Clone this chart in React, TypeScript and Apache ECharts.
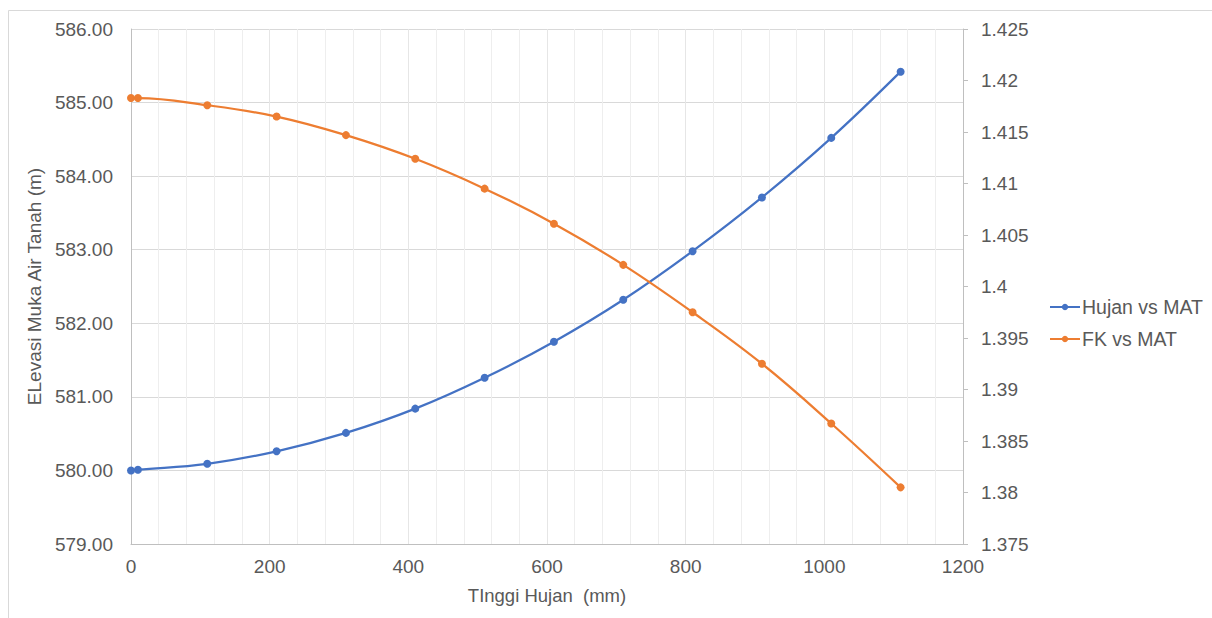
import React, { useEffect, useRef } from "react";
import * as echarts from "echarts";

const rainfall = [0, 10, 110, 210, 310, 410, 510, 610, 710, 810, 910, 1010, 1110];
const hujanVsMat = [580.0, 580.01, 580.09, 580.26, 580.51, 580.84, 581.26, 581.75, 582.32, 582.98, 583.71, 584.52, 585.42];
const fkVsMat = [1.4183, 1.4183, 1.4176, 1.4165, 1.4147, 1.4124, 1.4095, 1.4061, 1.4021, 1.3975, 1.3925, 1.3867, 1.3805];
const seriesNames = ["Hujan vs MAT", "FK vs MAT"];

const FONT = "'Liberation Sans', Arial, sans-serif";
const TEXT = "#595959";

export default function App() {
  const ref = useRef<HTMLDivElement>(null);
  useEffect(() => {
    if (!ref.current) return;
    const chart = echarts.init(ref.current, null, { renderer: "svg" });
    chart.setOption({
      animation: false,
      backgroundColor: "#ffffff",
      textStyle: { fontFamily: FONT },
      graphic: [
        {
          type: "rect",
          shape: { x: 8.5, y: 10.5, width: 1240, height: 640 },
          style: { fill: "none", stroke: "#d9d9d9", lineWidth: 1 },
          silent: true,
        },
      ],
      grid: { left: 131, right: 249, top: 29, bottom: 74, containLabel: false },
      legend: {
        orient: "vertical",
        left: 1044,
        top: 292,
        itemWidth: 30,
        itemHeight: 8,
        itemGap: 12,
        data: seriesNames,
        textStyle: { fontFamily: FONT, fontSize: 19.5, color: TEXT, padding: [0, 0, 0, -3] },
      },
      xAxis: {
        type: "value",
        min: 0,
        max: 1200,
        interval: 200,
        name: "TInggi Hujan  (mm)",
        nameLocation: "middle",
        nameGap: 42,
        nameTextStyle: { fontFamily: FONT, fontSize: 18.5, color: TEXT },
        axisLine: { show: true, lineStyle: { color: "#bfbfbf", width: 1 } },
        axisTick: { show: false },
        axisLabel: {
          fontFamily: FONT,
          fontSize: 19,
          color: TEXT,
          margin: 13,
          formatter: (v: number) => String(v),
        },
        splitLine: { show: true, lineStyle: { color: "#e6e6e6", width: 1 } },
        minorTick: { show: false, splitNumber: 5 },
        minorSplitLine: { show: true, lineStyle: { color: "#eeeeee", width: 1 } },
      },
      yAxis: [
        {
          type: "value",
          min: 579,
          max: 586,
          interval: 1,
          name: "ELevasi Muka Air Tanah (m)",
          nameLocation: "middle",
          nameGap: 85,
          nameTextStyle: { fontFamily: FONT, fontSize: 19, color: TEXT },
          axisLine: { show: true, lineStyle: { color: "#bfbfbf", width: 1 } },
          axisTick: { show: false },
          axisLabel: {
            fontFamily: FONT,
            fontSize: 19,
            color: TEXT,
            margin: 18,
            formatter: (v: number) => v.toFixed(2),
          },
          splitLine: { show: true, lineStyle: { color: "#d9d9d9", width: 1 } },
        },
        {
          type: "value",
          min: 1.375,
          max: 1.425,
          interval: 0.005,
          position: "right",
          axisLine: { show: true, lineStyle: { color: "#bfbfbf", width: 1 } },
          axisTick: { show: true, length: 5, lineStyle: { color: "#bfbfbf" } },
          axisLabel: {
            fontFamily: FONT,
            fontSize: 19,
            color: TEXT,
            margin: 18,
            formatter: (v: number) => String(parseFloat(v.toFixed(3))),
          },
          splitLine: { show: false },
        },
      ],
      series: [
        {
          name: seriesNames[0],
          type: "line",
          yAxisIndex: 0,
          smooth: 0.4,
          symbol: "circle",
          symbolSize: 8,
          color: "#4472C4",
          lineStyle: { width: 2.25, color: "#4472C4" },
          itemStyle: { color: "#4472C4" },
          data: rainfall.map((x, i) => [x, hujanVsMat[i]]),
        },
        {
          name: seriesNames[1],
          type: "line",
          yAxisIndex: 1,
          smooth: 0.4,
          symbol: "circle",
          symbolSize: 8,
          color: "#ED7D31",
          lineStyle: { width: 2.25, color: "#ED7D31" },
          itemStyle: { color: "#ED7D31" },
          data: rainfall.map((x, i) => [x, fkVsMat[i]]),
        },
      ],
    });
    return () => chart.dispose();
  }, []);
  return (
    <div
      ref={ref}
      style={{ position: "absolute", left: 0, top: 0, width: 1212, height: 618 }}
    />
  );
}
